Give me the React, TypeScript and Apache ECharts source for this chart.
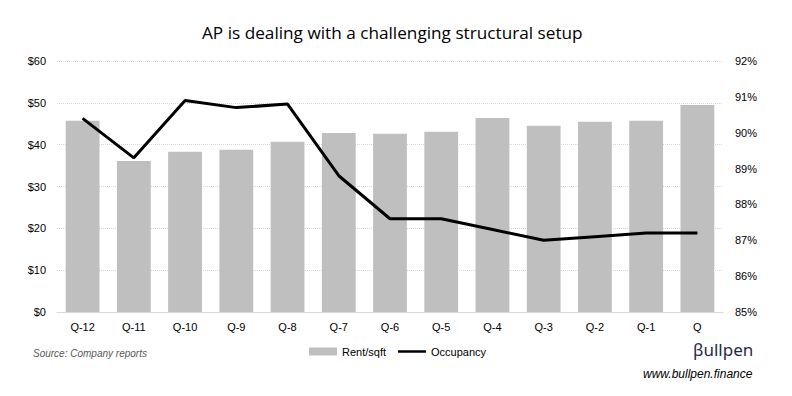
import React, { useEffect, useRef } from "react";
import * as echarts from "echarts";

const categories = ["Q-12", "Q-11", "Q-10", "Q-9", "Q-8", "Q-7", "Q-6", "Q-5", "Q-4", "Q-3", "Q-2", "Q-1", "Q"];
const rentValues = [45.7, 36.1, 38.3, 38.8, 40.7, 42.8, 42.6, 43.1, 46.4, 44.5, 45.5, 45.7, 49.5];
const occupancyValues = [90.4, 89.3, 90.9, 90.7, 90.8, 88.8, 87.6, 87.6, 87.3, 87.0, 87.1, 87.2, 87.2];

const FONT = "Liberation Sans, Arial, sans-serif";

export default function App() {
  const ref = useRef<HTMLDivElement>(null);
  useEffect(() => {
    if (!ref.current) return;
    const chart = echarts.init(ref.current, undefined, { renderer: "svg" });
    chart.setOption({
      animation: false,
      backgroundColor: "#ffffff",
      textStyle: { fontFamily: FONT },
      title: {
        text: "AP is dealing with a challenging structural setup",
        left: 197,
        top: 19,
        textStyle: { fontSize: 17.2, fontWeight: "normal", color: "#000", fontFamily: "Open Sans, sans-serif" },
      },
      legend: {
        bottom: 34,
        left: 304,
        itemGap: 12,
        itemWidth: 28,
        itemHeight: 8,
        textStyle: { fontSize: 11, color: "#000", fontFamily: FONT },
        data: [
          { name: "Rent/sqft", icon: "rect" },
          { name: "Occupancy", icon: "path://M0,0 L28,0 L28,2.5 L0,2.5 Z" },
        ],
      },
      grid: { left: 57, right: 69, top: 61, bottom: 84 },
      xAxis: {
        type: "category",
        data: categories,
        axisLine: { show: true, lineStyle: { color: "#d9d9d9" } },
        axisTick: { show: false },
        axisLabel: { color: "#000", fontSize: 11, margin: 9 },
      },
      yAxis: [
        {
          type: "value",
          min: 0,
          max: 60,
          interval: 10,
          axisLabel: { color: "#000", fontSize: 11, formatter: (v: number) => "$" + v, margin: 11 },
          splitLine: { lineStyle: { color: "#d9d9d9", type: "dotted" } },
          axisLine: { show: false },
          axisTick: { show: false },
        },
        {
          type: "value",
          min: 85,
          max: 92,
          interval: 1,
          axisLabel: { color: "#000", fontSize: 11, formatter: (v: number) => v + "%", margin: 12 },
          splitLine: { show: false },
          axisLine: { show: false },
          axisTick: { show: false },
        },
      ],
      series: [
        {
          name: "Rent/sqft",
          type: "bar",
          data: rentValues,
          barWidth: "66%",
          itemStyle: { color: "#bfbfbf" },
          yAxisIndex: 0,
        },
        {
          name: "Occupancy",
          type: "line",
          data: occupancyValues,
          yAxisIndex: 1,
          symbol: "none",
          lineStyle: { color: "#000", width: 3 },
          itemStyle: { color: "#000" },
        },
      ],
      graphic: [
        {
          type: "text",
          left: 33,
          top: 348,
          style: { text: "Source: Company reports", fontSize: 10, fontStyle: "italic", fill: "#595959", fontFamily: FONT },
        },
        {
          type: "text",
          left: 693,
          top: 341,
          style: { text: "βullpen", fontSize: 17, fill: "#1f2a44", fontFamily: "Noto Sans, sans-serif" },
        },
        {
          type: "text",
          left: 643,
          top: 368,
          style: { text: "www.bullpen.finance", fontSize: 12, fontStyle: "italic", fill: "#000", fontFamily: FONT },
        },
      ],
    });
    return () => chart.dispose();
  }, []);
  return <div ref={ref} style={{ width: 792, height: 396, position: "absolute", left: 0, top: 0 }} />;
}
